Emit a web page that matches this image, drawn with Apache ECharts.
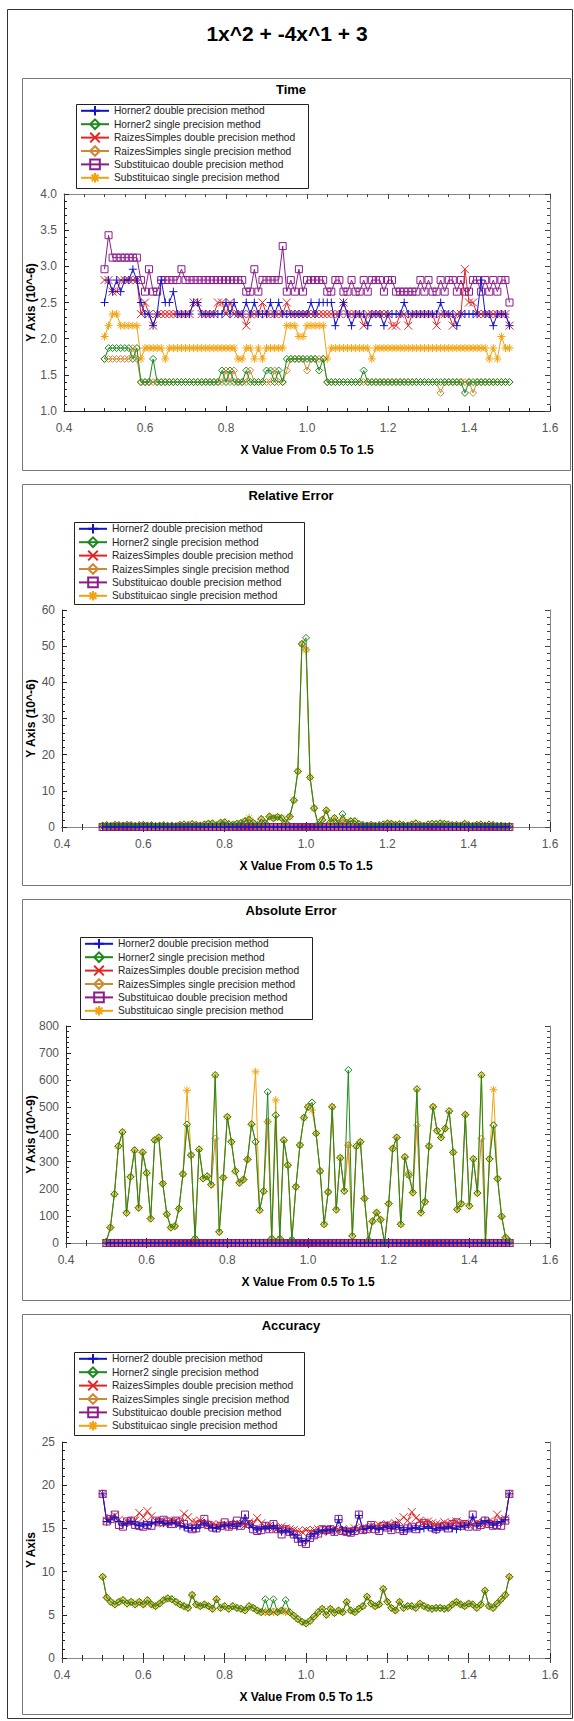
<!DOCTYPE html>
<html>
<head>
<meta charset="utf-8">
<script src="https://cdn.jsdelivr.net/npm/echarts@6/dist/echarts.min.js"></script>
<style>
  html, body { margin: 0; padding: 0; background: #fff; }
  #main { width: 574px; height: 1721px; }
</style>
</head>
<body>
<div id="main"></div>
<script>
// x values: 0.50 .. 1.50
const xValues = [
  0.50, 0.51, 0.52, 0.53, 0.54, 0.55, 0.56, 0.57, 0.58, 0.59,
  0.60, 0.61, 0.62, 0.63, 0.64, 0.65, 0.66, 0.67, 0.68, 0.69,
  0.70, 0.71, 0.72, 0.73, 0.74, 0.75, 0.76, 0.77, 0.78, 0.79,
  0.80, 0.81, 0.82, 0.83, 0.84, 0.85, 0.86, 0.87, 0.88, 0.89,
  0.90, 0.91, 0.92, 0.93, 0.94, 0.95, 0.96, 0.97, 0.98, 0.99,
  1.00, 1.01, 1.02, 1.03, 1.04, 1.05, 1.06, 1.07, 1.08, 1.09,
  1.10, 1.11, 1.12, 1.13, 1.14, 1.15, 1.16, 1.17, 1.18, 1.19,
  1.20, 1.21, 1.22, 1.23, 1.24, 1.25, 1.26, 1.27, 1.28, 1.29,
  1.30, 1.31, 1.32, 1.33, 1.34, 1.35, 1.36, 1.37, 1.38, 1.39,
  1.40, 1.41, 1.42, 1.43, 1.44, 1.45, 1.46, 1.47, 1.48, 1.49,
  1.50
];

const seriesNames = [
  "Horner2 double precision method",
  "Horner2 single precision method",
  "RaizesSimples double precision method",
  "RaizesSimples single precision method",
  "Substituicao double precision method",
  "Substituicao single precision method"
];

// ---- Time (10^-6)
const timeH2d = [
  2.50, 2.81, 2.65, 2.81, 2.65, 2.81, 2.81, 2.96, 2.81, 2.50,
  2.34, 2.34, 2.18, 2.34, 2.81, 2.50, 2.50, 2.65, 2.34, 2.34,
  2.34, 2.34, 2.50, 2.50, 2.34, 2.34, 2.34, 2.34, 2.34, 2.34,
  2.50, 2.34, 2.50, 2.34, 2.34, 2.50, 2.34, 2.50, 2.34, 2.34,
  2.34, 2.50, 2.34, 2.50, 2.34, 2.34, 2.34, 2.34, 2.34, 2.34,
  2.34, 2.50, 2.34, 2.50, 2.50, 2.50, 2.50, 2.18, 2.34, 2.50,
  2.34, 2.18, 2.34, 2.34, 2.34, 2.18, 2.34, 2.34, 2.34, 2.18,
  2.34, 2.34, 2.34, 2.34, 2.50, 2.34, 2.34, 2.34, 2.34, 2.34,
  2.34, 2.34, 2.34, 2.50, 2.34, 2.34, 2.34, 2.18, 2.34, 2.34,
  2.34, 2.34, 2.34, 2.81, 2.34, 2.34, 2.18, 2.34, 2.34, 2.34,
  2.18
];
const timeH2s = [
  1.72, 1.87, 1.87, 1.87, 1.87, 1.87, 1.87, 1.72, 1.87, 1.40,
  1.40, 1.40, 1.72, 1.40, 1.40, 1.40, 1.40, 1.40, 1.40, 1.40,
  1.40, 1.40, 1.40, 1.40, 1.40, 1.40, 1.40, 1.40, 1.40, 1.56,
  1.40, 1.56, 1.40, 1.40, 1.40, 1.56, 1.40, 1.40, 1.40, 1.40,
  1.56, 1.56, 1.40, 1.56, 1.40, 1.72, 1.72, 1.72, 1.72, 1.72,
  1.72, 1.72, 1.72, 1.56, 1.72, 1.40, 1.40, 1.40, 1.40, 1.40,
  1.40, 1.40, 1.40, 1.40, 1.56, 1.40, 1.40, 1.40, 1.40, 1.40,
  1.40, 1.40, 1.40, 1.40, 1.40, 1.40, 1.40, 1.40, 1.40, 1.40,
  1.40, 1.40, 1.40, 1.40, 1.40, 1.40, 1.40, 1.40, 1.40, 1.25,
  1.40, 1.40, 1.40, 1.40, 1.40, 1.40, 1.40, 1.40, 1.40, 1.40,
  1.40
];
const timeRSd = [
  2.81, 2.81, 2.65, 2.65, 2.81, 2.81, 2.81, 2.81, 2.81, 2.34,
  2.50, 2.34, 2.18, 2.34, 2.34, 2.34, 2.34, 2.34, 2.34, 2.34,
  2.34, 2.34, 2.50, 2.50, 2.34, 2.34, 2.34, 2.34, 2.50, 2.50,
  2.34, 2.50, 2.34, 2.34, 2.34, 2.18, 2.34, 2.34, 2.34, 2.50,
  2.34, 2.34, 2.34, 2.34, 2.34, 2.50, 2.34, 2.34, 2.34, 2.34,
  2.34, 2.34, 2.34, 2.34, 2.34, 2.34, 2.34, 2.34, 2.34, 2.50,
  2.34, 2.34, 2.34, 2.34, 2.18, 2.34, 2.34, 2.34, 2.34, 2.34,
  2.34, 2.18, 2.18, 2.34, 2.34, 2.18, 2.34, 2.34, 2.34, 2.34,
  2.34, 2.34, 2.18, 2.34, 2.34, 2.34, 2.18, 2.34, 2.34, 2.96,
  2.50, 2.50, 2.34, 2.34, 2.34, 2.34, 2.34, 2.34, 2.34, 2.34,
  2.18
];
const timeRSs = [
  1.72, 1.72, 1.72, 1.72, 1.72, 1.72, 1.72, 1.87, 1.72, 1.40,
  1.40, 1.40, 1.40, 1.40, 1.40, 1.40, 1.40, 1.40, 1.40, 1.40,
  1.40, 1.40, 1.40, 1.40, 1.40, 1.40, 1.40, 1.40, 1.40, 1.40,
  1.56, 1.40, 1.56, 1.40, 1.40, 1.40, 1.56, 1.40, 1.40, 1.40,
  1.40, 1.40, 1.56, 1.40, 1.40, 1.56, 1.72, 1.72, 1.72, 1.72,
  1.56, 1.72, 1.72, 1.72, 1.72, 1.40, 1.40, 1.40, 1.40, 1.40,
  1.40, 1.40, 1.40, 1.40, 1.40, 1.40, 1.40, 1.40, 1.40, 1.40,
  1.40, 1.40, 1.40, 1.40, 1.40, 1.40, 1.40, 1.40, 1.40, 1.40,
  1.40, 1.40, 1.40, 1.25, 1.40, 1.40, 1.40, 1.40, 1.40, 1.40,
  1.40, 1.25, 1.40, 1.40, 1.40, 1.40, 1.40, 1.40, 1.40, 1.40,
  1.40
];
const timeSd = [
  2.96, 3.43, 3.12, 3.12, 3.12, 3.12, 3.12, 3.12, 3.12, 2.81,
  2.65, 2.96, 2.65, 2.65, 2.81, 2.81, 2.81, 2.81, 2.81, 2.96,
  2.81, 2.81, 2.81, 2.81, 2.81, 2.81, 2.81, 2.81, 2.81, 2.81,
  2.81, 2.81, 2.81, 2.81, 2.81, 2.65, 2.65, 2.96, 2.65, 2.81,
  2.81, 2.81, 2.81, 2.81, 3.28, 2.65, 2.81, 2.65, 2.96, 2.65,
  2.81, 2.81, 2.81, 2.81, 2.81, 2.65, 2.65, 2.81, 2.81, 2.65,
  2.65, 2.81, 2.65, 2.65, 2.81, 2.65, 2.81, 2.81, 2.81, 2.65,
  2.81, 2.81, 2.65, 2.65, 2.65, 2.65, 2.65, 2.65, 2.81, 2.65,
  2.81, 2.65, 2.65, 2.81, 2.65, 2.81, 2.81, 2.65, 2.81, 2.65,
  2.65, 2.81, 2.81, 2.65, 2.81, 2.65, 2.81, 2.65, 2.81, 2.81,
  2.50
];
const timeSs = [
  2.03, 2.18, 2.34, 2.34, 2.18, 2.18, 2.18, 2.18, 2.18, 1.72,
  1.87, 1.87, 1.87, 1.87, 1.87, 1.72, 1.87, 1.87, 1.87, 1.87,
  1.87, 1.87, 1.87, 1.87, 1.87, 1.87, 1.87, 1.87, 1.87, 1.87,
  1.87, 1.87, 1.87, 1.72, 1.72, 1.87, 1.87, 1.72, 1.87, 1.72,
  1.87, 1.87, 1.87, 1.87, 1.87, 2.18, 2.18, 2.18, 2.03, 2.03,
  2.18, 2.18, 2.18, 2.18, 2.18, 1.72, 1.87, 1.87, 1.87, 1.87,
  1.87, 1.87, 1.87, 1.87, 1.87, 1.87, 1.72, 1.87, 1.87, 1.87,
  1.87, 1.87, 1.87, 1.87, 1.87, 1.87, 1.87, 1.87, 1.87, 1.87,
  1.87, 1.87, 1.87, 1.87, 1.87, 1.87, 1.87, 1.87, 1.87, 1.87,
  1.87, 1.87, 1.87, 1.87, 1.87, 1.72, 1.87, 1.72, 2.03, 1.87,
  1.87
];

// ---- Relative Error (10^-6)
const relDouble = [
  0, 0, 0, 0, 0, 0, 0, 0, 0, 0,
  0, 0, 0, 0, 0, 0, 0, 0, 0, 0,
  0, 0, 0, 0, 0, 0, 0, 0, 0, 0,
  0, 0, 0, 0, 0, 0, 0, 0, 0, 0,
  0, 0, 0, 0, 0, 0, 0, 0, 0, 0,
  0, 0, 0, 0, 0, 0, 0, 0, 0, 0,
  0, 0, 0, 0, 0, 0, 0, 0, 0, 0,
  0, 0, 0, 0, 0, 0, 0, 0, 0, 0,
  0, 0, 0, 0, 0, 0, 0, 0, 0, 0,
  0, 0, 0, 0, 0, 0, 0, 0, 0, 0,
  0
];
const relH2s = [
  0.4, 0.5, 0.3, 0.6, 0.5, 0.4, 0.6, 0.5, 0.3, 0.5,
  0.6, 0.4, 0.5, 0.3, 0.4, 0.5, 0.3, 0.4, 0.2, 0.6,
  0.7, 0.5, 0.8, 0.6, 0.4, 0.7, 0.9, 1.0, 0.5, 1.2,
  1.3, 0.8, 0.6, 0.9, 1.1, 1.6, 2.0, 1.2, 0.5, 2.2,
  1.0, 2.9, 2.4, 2.8, 2.5, 1.2, 2.9, 7.4, 15.4, 50.6,
  52.3, 13.7, 5.2, 0.6, 2.0, 4.6, 1.3, 2.5, 1.0, 3.6,
  1.2, 1.6, 1.6, 0.8, 0.5, 0.4, 0.6, 0.3, 0.5, 0.7,
  1.0, 0.9, 0.6, 0.8, 0.5, 0.4, 0.7, 1.0, 0.6, 0.3,
  0.7, 0.9, 0.8, 1.0, 0.9, 0.7, 0.5, 0.6, 0.4, 0.9,
  0.5, 0.3, 0.6, 0.7, 0.4, 0.7, 0.5, 0.3, 0.4, 0.2,
  0.3
];
const relRSs = [
  0.4, 0.5, 0.3, 0.6, 0.5, 0.4, 0.6, 0.5, 0.3, 0.5,
  0.6, 0.4, 0.5, 0.3, 0.4, 0.5, 0.3, 0.4, 0.2, 0.6,
  0.7, 0.5, 0.8, 0.6, 0.4, 0.7, 0.9, 1.0, 0.5, 1.2,
  1.3, 0.8, 0.6, 0.9, 1.1, 1.6, 2.0, 1.2, 0.5, 2.2,
  1.0, 2.9, 2.4, 2.8, 2.5, 1.2, 2.9, 7.4, 15.4, 50.6,
  49.0, 13.7, 5.2, 0.6, 2.0, 4.6, 1.3, 2.5, 1.0, 2.0,
  1.2, 1.6, 1.6, 0.8, 0.5, 0.4, 0.6, 0.3, 0.5, 0.7,
  1.0, 0.9, 0.6, 0.8, 0.5, 0.4, 0.7, 1.0, 0.6, 0.3,
  0.7, 0.9, 0.8, 1.0, 0.9, 0.7, 0.5, 0.6, 0.4, 0.9,
  0.5, 0.3, 0.6, 0.7, 0.4, 0.7, 0.5, 0.3, 0.4, 0.2,
  0.3
];
const relSs = [
  0.4, 0.5, 0.3, 0.6, 0.5, 0.4, 0.6, 0.5, 0.3, 0.5,
  0.6, 0.4, 0.5, 0.3, 0.4, 0.5, 0.3, 0.4, 0.2, 0.6,
  0.7, 0.5, 0.8, 0.6, 0.4, 0.7, 0.9, 1.0, 0.5, 1.2,
  1.3, 0.8, 0.6, 0.9, 1.1, 1.6, 2.5, 1.2, 0.5, 2.2,
  1.0, 2.9, 2.4, 2.8, 2.5, 1.2, 2.9, 7.4, 15.4, 50.6,
  49.0, 13.7, 5.2, 0.6, 2.0, 4.6, 1.3, 2.5, 1.0, 2.0,
  1.2, 1.6, 1.6, 0.8, 0.5, 0.4, 0.6, 0.3, 0.5, 0.7,
  1.0, 0.9, 0.6, 0.8, 0.5, 0.4, 0.7, 1.0, 0.6, 0.3,
  0.7, 0.9, 0.8, 1.0, 0.9, 0.7, 0.5, 0.6, 0.4, 0.9,
  0.5, 0.3, 0.6, 0.7, 0.4, 0.7, 0.5, 0.3, 0.4, 0.2,
  0.3
];

// ---- Absolute Error (10^-9)
const absDouble = [
  0, 0, 0, 0, 0, 0, 0, 0, 0, 0,
  0, 0, 0, 0, 0, 0, 0, 0, 0, 0,
  0, 0, 0, 0, 0, 0, 0, 0, 0, 0,
  0, 0, 0, 0, 0, 0, 0, 0, 0, 0,
  0, 0, 0, 0, 0, 0, 0, 0, 0, 0,
  0, 0, 0, 0, 0, 0, 0, 0, 0, 0,
  0, 0, 0, 0, 0, 0, 0, 0, 0, 0,
  0, 0, 0, 0, 0, 0, 0, 0, 0, 0,
  0, 0, 0, 0, 0, 0, 0, 0, 0, 0,
  0, 0, 0, 0, 0, 0, 0, 0, 0, 0,
  0
];
const absH2s = [
  5, 57, 180, 357, 409, 111, 244, 342, 130, 334,
  258, 90, 379, 389, 219, 106, 57, 62, 127, 254,
  437, 324, 16, 345, 238, 246, 215, 619, 41, 241,
  465, 373, 265, 222, 234, 308, 438, 373, 121, 191,
  557, 16, 471, 16, 379, 287, 12, 207, 361, 462,
  502, 518, 404, 265, 69, 188, 502, 123, 314, 192,
  638, 26, 357, 373, 164, 10, 80, 112, 86, 0,
  145, 348, 389, 69, 317, 250, 186, 567, 112, 152,
  357, 502, 414, 389, 422, 486, 334, 124, 145, 473,
  137, 310, 184, 619, 5, 310, 434, 237, 98, 20,
  5
];
const absRSs = [
  5, 57, 180, 357, 409, 111, 244, 342, 130, 334,
  258, 90, 379, 389, 219, 106, 57, 62, 127, 254,
  437, 324, 16, 345, 238, 246, 215, 385, 41, 241,
  465, 373, 265, 222, 234, 308, 438, 373, 121, 191,
  447, 16, 471, 16, 379, 287, 12, 207, 361, 462,
  502, 518, 404, 265, 69, 188, 502, 123, 314, 192,
  361, 26, 357, 373, 164, 10, 80, 112, 86, 0,
  145, 348, 389, 69, 317, 258, 186, 434, 112, 152,
  357, 502, 414, 389, 422, 486, 334, 124, 145, 473,
  137, 310, 184, 385, 5, 310, 434, 237, 98, 20,
  5
];
const absSs = [
  5, 57, 180, 357, 409, 111, 244, 342, 130, 334,
  258, 90, 379, 389, 219, 106, 57, 62, 127, 254,
  563, 324, 16, 345, 238, 246, 215, 619, 41, 241,
  465, 373, 265, 222, 234, 308, 438, 631, 121, 191,
  447, 16, 527, 16, 379, 287, 12, 207, 361, 462,
  502, 490, 404, 265, 69, 188, 502, 123, 314, 192,
  361, 26, 357, 373, 164, 10, 80, 112, 86, 0,
  145, 348, 389, 69, 317, 250, 186, 567, 112, 152,
  357, 502, 414, 389, 422, 486, 334, 124, 145, 473,
  137, 310, 184, 619, 5, 310, 565, 237, 98, 20,
  5
];

// ---- Accuracy
const accH2d = [
  19.0, 15.8, 16.0, 16.3, 15.8, 15.4, 15.6, 15.8, 15.5, 15.3,
  15.5, 15.4, 15.6, 15.7, 15.8, 15.6, 15.5, 15.7, 15.6, 15.3,
  15.2, 15.0, 15.1, 15.0, 15.4, 15.6, 15.3, 15.1, 15.0, 15.2,
  15.4, 15.3, 15.5, 15.2, 15.6, 16.2, 15.4, 15.1, 14.9, 15.0,
  15.2, 15.0, 15.3, 15.0, 14.6, 14.8, 14.6, 14.3, 13.9, 13.5,
  13.6, 14.1, 14.4, 14.6, 14.8, 14.7, 14.9, 14.7, 16.0, 14.8,
  14.7, 14.6, 14.8, 16.5, 14.9, 15.0, 15.2, 15.0, 14.9, 15.1,
  15.3, 15.0, 15.4, 15.1, 14.8, 14.9, 15.0, 15.1, 14.9, 15.0,
  15.2, 15.0, 14.8, 15.1, 15.0, 15.2, 15.0, 14.9, 15.2, 15.3,
  15.4, 16.3, 15.3, 15.6, 15.9, 15.7, 15.4, 15.6, 15.8, 16.0,
  19.0
];
const accH2s = [
  9.4, 7.0, 6.5, 6.2, 6.5, 6.7, 6.3, 6.5, 6.2, 6.5,
  6.2, 6.7, 6.2, 6.0, 6.3, 6.7, 6.9, 6.8, 6.5, 6.2,
  6.0, 5.8, 7.3, 6.2, 6.0, 6.2, 6.0, 5.7, 6.8, 5.8,
  6.0, 5.7, 6.0, 5.8, 5.7, 5.5, 6.0, 5.8, 5.5, 5.3,
  6.8, 5.3, 6.8, 5.3, 5.5, 6.7, 5.3, 4.9, 4.5, 4.2,
  4.0, 4.3, 4.8, 5.3, 5.7, 5.0, 5.7, 5.2, 5.5, 5.3,
  6.5, 5.5, 5.3, 5.7, 6.0, 7.1, 6.3, 6.0, 6.2, 8.0,
  6.5, 5.8, 5.5, 6.5, 5.8, 6.0, 6.0, 5.8, 6.3, 6.0,
  5.8, 5.7, 5.8, 5.8, 5.7, 5.8, 6.2, 6.5, 6.2, 6.0,
  6.3, 6.2, 5.8, 6.2, 7.8, 6.0, 5.8, 6.3, 6.8, 7.3,
  9.4
];
const accRSd = [
  19.0, 15.9, 16.2, 16.5, 16.0, 15.6, 15.8, 15.7, 15.9, 16.8,
  16.3, 17.0, 16.4, 15.9, 15.8, 15.6, 15.7, 15.8, 15.9, 15.5,
  16.7, 16.3, 15.8, 15.7, 15.9, 15.6, 15.4, 15.5, 15.3, 15.4,
  15.5, 15.3, 15.4, 15.6, 15.5, 15.4, 15.7, 15.5, 16.2, 15.6,
  15.2, 15.3, 15.1, 15.0, 15.2, 15.0, 14.9, 14.8, 14.7, 14.6,
  14.8, 14.7, 14.8, 14.9, 14.6, 14.8, 14.7, 14.9, 14.8, 14.9,
  14.7, 14.8, 15.0, 14.9, 15.1, 15.0, 15.3, 15.2, 15.4, 15.3,
  15.5, 15.4, 15.6, 15.8, 16.3, 15.9, 16.9, 16.2, 15.9, 15.7,
  15.8, 15.6, 15.5, 15.4, 15.7, 15.5, 15.6, 15.8, 15.5, 15.6,
  15.4, 15.5, 15.7, 15.5, 15.6, 15.8, 15.7, 16.6, 15.9, 16.1,
  19.0
];
const accRSs = [
  9.4, 7.0, 6.5, 6.2, 6.5, 6.7, 6.3, 6.5, 6.2, 6.5,
  6.2, 6.7, 6.2, 6.0, 6.3, 6.7, 6.9, 6.8, 6.5, 6.2,
  6.0, 5.8, 7.3, 6.2, 6.0, 6.2, 6.0, 5.7, 6.8, 5.8,
  6.0, 5.7, 6.0, 5.8, 5.7, 5.5, 6.0, 5.8, 5.5, 5.3,
  5.3, 5.3, 5.4, 5.3, 5.5, 5.4, 5.3, 4.9, 4.5, 4.2,
  4.0, 4.3, 4.8, 5.3, 5.7, 5.0, 5.7, 5.2, 5.5, 5.3,
  6.5, 5.5, 5.3, 5.7, 6.0, 7.1, 6.3, 6.0, 6.2, 8.0,
  6.5, 5.8, 5.5, 6.5, 5.8, 6.0, 6.0, 5.8, 6.3, 6.0,
  5.8, 5.7, 5.8, 5.8, 5.7, 5.8, 6.2, 6.5, 6.2, 6.0,
  6.3, 6.2, 5.8, 6.2, 7.8, 6.0, 5.8, 6.3, 6.8, 7.3,
  9.4
];
const accSd = [
  19.0, 15.8, 16.1, 16.6, 15.4, 15.2, 15.8, 15.9, 15.4, 15.3,
  15.2, 15.4, 15.3, 15.9, 15.7, 16.0, 15.8, 15.5, 15.9, 15.7,
  15.5, 15.1, 14.9, 15.0, 15.5, 16.1, 15.4, 15.1, 15.0, 15.3,
  15.7, 15.2, 15.4, 15.9, 15.3, 16.6, 15.5, 14.9, 14.7, 14.8,
  15.3, 14.9, 15.5, 14.9, 14.3, 14.9, 14.6, 14.3, 13.8, 13.4,
  13.2, 13.9, 14.2, 14.4, 14.9, 14.8, 14.9, 14.6, 16.1, 14.7,
  14.6, 14.5, 14.7, 16.6, 14.8, 14.9, 15.4, 14.9, 14.7, 15.3,
  15.1, 14.8, 15.3, 14.9, 14.7, 15.0, 15.2, 14.9, 15.3, 15.6,
  15.4, 15.1, 14.9, 15.2, 15.3, 15.0, 15.5, 15.7, 15.3, 15.5,
  15.2, 16.6, 15.2, 15.4, 15.9, 15.5, 15.3, 15.4, 15.3, 15.9,
  19.0
];
const accSs = [
  9.4, 7.0, 6.5, 6.2, 6.5, 6.7, 6.3, 6.5, 6.2, 6.5,
  6.2, 6.7, 6.2, 6.0, 6.3, 6.7, 6.9, 6.8, 6.5, 6.2,
  6.0, 5.8, 7.3, 6.2, 6.0, 6.2, 6.0, 5.7, 6.8, 5.8,
  6.0, 5.7, 6.0, 5.8, 5.7, 5.5, 6.0, 5.8, 5.5, 5.3,
  5.4, 5.3, 5.3, 5.3, 5.5, 5.3, 5.3, 4.9, 4.5, 4.2,
  4.0, 4.3, 4.8, 5.3, 5.7, 5.0, 5.7, 5.2, 5.5, 5.3,
  6.5, 5.5, 5.3, 5.7, 6.0, 7.1, 6.3, 6.0, 6.2, 8.0,
  6.5, 5.8, 5.5, 6.5, 5.8, 6.0, 6.0, 5.8, 6.3, 6.0,
  5.8, 5.7, 5.8, 5.8, 5.7, 5.8, 6.2, 6.5, 6.2, 6.0,
  6.3, 6.2, 5.8, 6.2, 7.8, 6.0, 5.8, 6.3, 6.8, 7.3,
  9.4
];

// ---- styles
const FONT = "'Liberation Sans', Arial, sans-serif";
const PLUS = "path://M0,5L10,5M5,0L5,10";
const CROSS = "path://M0,0L10,10M10,0L0,10";
const STAR = "path://M5,0L5,10M0,5L10,5M1.5,1.5L8.5,8.5M8.5,1.5L1.5,8.5";
const styles = [
  { color: "#1414c8", symbol: PLUS, size: 8 },
  { color: "#1e8a1e", symbol: "diamond", size: 7 },
  { color: "#e02626", symbol: CROSS, size: 8 },
  { color: "#cc8a33", symbol: "diamond", size: 7 },
  { color: "#8c1c8c", symbol: "rect", size: 7 },
  { color: "#f2a20e", symbol: STAR, size: 8 }
];

// one entry per chart panel; grid = [left, top, height], legend box = [x, y, w, h]
const panels = [
  { title: "Time", box: [78, 470], grid: [64, 194, 217], legend: [76, 104, 232, 84],
    yMin: 1, yMax: 4, yStep: 0.5, yDigits: 1, yName: "Y Axis (10^-6)",
    data: [timeH2d, timeH2s, timeRSd, timeRSs, timeSd, timeSs] },
  { title: "Relative Error", box: [484, 885], grid: [62, 610, 217], legend: [74, 522, 230, 82],
    yMin: 0, yMax: 60, yStep: 10, yDigits: 0, yName: "Y Axis (10^-6)",
    data: [relDouble, relH2s, relDouble, relRSs, relDouble, relSs] },
  { title: "Absolute Error", box: [899, 1300], grid: [66, 1026, 217], legend: [80, 937, 232, 82],
    yMin: 0, yMax: 800, yStep: 100, yDigits: 0, yName: "Y Axis (10^-9)",
    data: [absDouble, absH2s, absDouble, absRSs, absDouble, absSs] },
  { title: "Accuracy", box: [1314, 1714], grid: [62, 1442, 216], legend: [74, 1352, 230, 83],
    yMin: 0, yMax: 25, yStep: 5, yDigits: 0, yName: "Y Axis",
    data: [accH2d, accH2s, accRSd, accRSs, accSd, accSs] }
];

const PLOT_RIGHT = 550;
const option = {
  animation: false,
  backgroundColor: "#fff",
  legend: [], grid: [], xAxis: [], yAxis: [], series: [],
  graphic: [
    { type: "rect", shape: { x: 7.5, y: 9.5, width: 565, height: 1709 },
      style: { fill: "none", stroke: "#333", lineWidth: 1 } },
    { type: "text", x: 287, y: 33,
      style: { text: "1x^2 + -4x^1 + 3", font: "bold 21px " + FONT, fill: "#000",
               textAlign: "center", textVerticalAlign: "middle" } }
  ]
};

panels.forEach((p, k) => {
  const [gl, gt, gh] = p.grid;
  option.graphic.push({ type: "rect", shape: { x: 22.5, y: p.box[0] + 0.5, width: 548, height: p.box[1] - p.box[0] },
    style: { fill: "none", stroke: "#777", lineWidth: 1 } });
  option.graphic.push({ type: "rect", z: 0, shape: { x: p.legend[0] + 0.5, y: p.legend[1] + 0.5, width: p.legend[2], height: p.legend[3] },
    style: { fill: "#fff", stroke: "#222", lineWidth: 1 } });
  option.graphic.push({ type: "text", x: 291, y: p.box[0] + 11,
    style: { text: p.title, font: "bold 13px " + FONT, fill: "#000", textAlign: "center", textVerticalAlign: "middle" } });

  option.legend.push({
    orient: "vertical", left: p.legend[0] + 4, top: p.legend[1] + 1, padding: 0,
    itemWidth: 28, itemHeight: 12, itemGap: 1.8, selectedMode: false, z: 5,
    textStyle: { fontFamily: FONT, fontSize: 10.2, color: "#222" },
    data: seriesNames
  });
  option.grid.push({ left: gl, top: gt, width: PLOT_RIGHT - gl, height: gh });

  const fmtY = v => v.toFixed(p.yDigits);
  // bottom / top x axes
  option.xAxis.push({
    gridIndex: k, type: "value", min: 0.4, max: 1.6, interval: 0.2,
    name: "X Value From 0.5 To 1.5", nameLocation: "middle", nameGap: 33,
    nameTextStyle: { fontFamily: FONT, fontSize: 12, fontWeight: "bold", color: "#000" },
    axisLine: { lineStyle: { color: "#222" } },
    axisTick: { inside: true, length: 5, lineStyle: { color: "#222" } },
    minorTick: { show: true, splitNumber: 4, length: 3, lineStyle: { color: "#222" } },
    axisLabel: { margin: 11, fontFamily: FONT, fontSize: 12, color: "#555", formatter: v => v.toFixed(1) },
    splitLine: { show: false }
  }, {
    gridIndex: k, type: "value", position: "top", min: 0.4, max: 1.6, interval: 0.2,
    axisLine: { lineStyle: { color: "#888" } },
    axisTick: { inside: true, length: 5, lineStyle: { color: "#444" } },
    minorTick: { show: true, splitNumber: 4, length: 3, lineStyle: { color: "#444" } },
    axisLabel: { show: false }, splitLine: { show: false }
  });
  // left / right y axes
  option.yAxis.push({
    gridIndex: k, type: "value", min: p.yMin, max: p.yMax, interval: p.yStep,
    name: p.yName, nameLocation: "middle", nameGap: gl - 37, nameMoveOverlap: false,
    nameTextStyle: { fontFamily: FONT, fontSize: 12, fontWeight: "bold", color: "#000" },
    axisLine: { show: true, lineStyle: { color: "#222" } },
    axisTick: { show: true, inside: true, length: 5, lineStyle: { color: "#222" } },
    minorTick: { show: true, splitNumber: 5, length: 3, lineStyle: { color: "#222" } },
    axisLabel: { margin: 7, fontFamily: FONT, fontSize: 12, color: "#555", formatter: fmtY },
    splitLine: { show: false }
  }, {
    gridIndex: k, type: "value", position: "right", min: p.yMin, max: p.yMax, interval: p.yStep,
    axisLine: { show: true, lineStyle: { color: "#888" } },
    axisTick: { show: true, inside: true, length: 5, lineStyle: { color: "#444" } },
    minorTick: { show: true, splitNumber: 5, length: 3, lineStyle: { color: "#444" } },
    axisLabel: { show: false }, splitLine: { show: false }
  });

  // first series drawn on top, as in the original plot
  p.data.forEach((vals, s) => {
    const st = styles[s];
    option.series.push({
      name: seriesNames[s], type: "line", z: 8 - s,
      xAxisIndex: 2 * k, yAxisIndex: 2 * k,
      data: xValues.map((x, i) => [x, vals[i]]),
      symbol: st.symbol, symbolSize: st.size,
      lineStyle: { color: st.color, width: 1 },
      itemStyle: { color: "rgba(255,255,255,0)", borderColor: st.color, borderWidth: 1 },
      emphasis: { disabled: true }
    });
  });
});

const chart = echarts.init(document.getElementById("main"), null, { renderer: "svg" });
chart.setOption(option);
</script>
</body>
</html>
